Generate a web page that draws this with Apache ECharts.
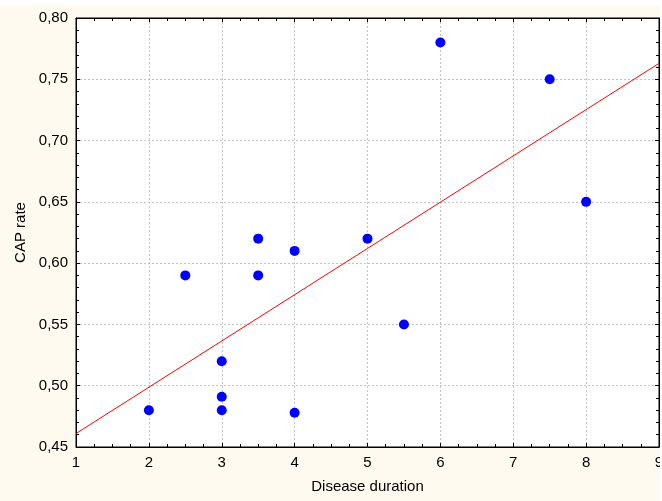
<!DOCTYPE html>
<html>
<head>
<meta charset="utf-8">
<script src="https://cdn.jsdelivr.net/npm/echarts@6/dist/echarts.min.js"></script>
<style>
  html, body { margin: 0; padding: 0; background: #fff; }
  #chart { position: absolute; left: 0; top: 5px; width: 660px; height: 496px; }
</style>
</head>
<body>
<div id="chart"></div>
<script>
// disease duration vs CAP rate
const duration = [2, 2.5, 3, 3, 3, 3.5, 3.5, 4, 4, 5, 5.5, 6, 7.5, 8];
const capRate = [0.48, 0.59, 0.52, 0.491, 0.48, 0.62, 0.59, 0.61, 0.478, 0.62, 0.55, 0.78, 0.75, 0.65];

// fitted line end points
const fitX = [1, 9];
const fitY = [0.461, 0.763];

const font = 'Liberation Sans, Arial, sans-serif';
const gridLine = { show: true, lineStyle: { color: '#c4c4c4', type: [2, 2] } };

function commaLabel(v) {
  return v.toFixed(2).replace('.', ',');
}

const chart = echarts.init(document.getElementById('chart'));

const xBase = {
  type: 'value',
  min: 1,
  max: 9,
  interval: 1,
  axisLine: { show: true, lineStyle: { color: '#000' } },
  axisTick: { show: true, inside: true, length: 4, lineStyle: { color: '#000' } },
  minorTick: { show: true, splitNumber: 4, length: 3, lineStyle: { color: '#000' } },
};
const yBase = {
  type: 'value',
  min: 0.45,
  max: 0.80,
  interval: 0.05,
  axisLine: { show: true, lineStyle: { color: '#000' } },
  axisTick: { show: true, inside: true, length: 4, lineStyle: { color: '#000' } },
  minorTick: { show: true, splitNumber: 5, length: 3, lineStyle: { color: '#000' } },
};

chart.setOption({
  backgroundColor: '#fffaef',
  animation: false,
  textStyle: { fontFamily: font },
  grid: {
    left: 76, right: 1, top: 13, bottom: 54,
    containLabel: false,
    outerBoundsMode: 'none',
    show: true, backgroundColor: '#fff', borderColor: '#000', borderWidth: 1,
  },
  xAxis: [
    {
      ...xBase,
      position: 'bottom',
      name: 'Disease duration',
      nameLocation: 'middle',
      nameGap: 32,
      nameTextStyle: { color: '#000', fontSize: 15, fontFamily: font },
      axisLabel: { color: '#000', fontSize: 15, margin: 8, fontFamily: font },
      splitLine: gridLine,
    },
    {
      ...xBase,
      position: 'top',
      axisLabel: { show: false },
      splitLine: { show: false },
    },
  ],
  yAxis: [
    {
      ...yBase,
      position: 'left',
      name: 'CAP rate',
      nameLocation: 'middle',
      nameGap: 48,
      nameTextStyle: { color: '#000', fontSize: 15, fontFamily: font },
      axisLabel: { color: '#000', fontSize: 15, margin: 8, fontFamily: font, formatter: commaLabel },
      splitLine: gridLine,
    },
    {
      ...yBase,
      position: 'right',
      axisLabel: { show: false },
      splitLine: { show: false },
    },
  ],
  series: [
    {
      type: 'line',
      data: fitX.map((x, i) => [x, fitY[i]]),
      showSymbol: false,
      lineStyle: { color: '#ff0000', width: 1 },
      z: 2,
    },
    {
      type: 'scatter',
      data: duration.map((x, i) => [x, capRate[i]]),
      symbolSize: 10,
      itemStyle: { color: '#0000ff', opacity: 1 },
      z: 3,
    },
  ],
});
</script>
</body>
</html>
